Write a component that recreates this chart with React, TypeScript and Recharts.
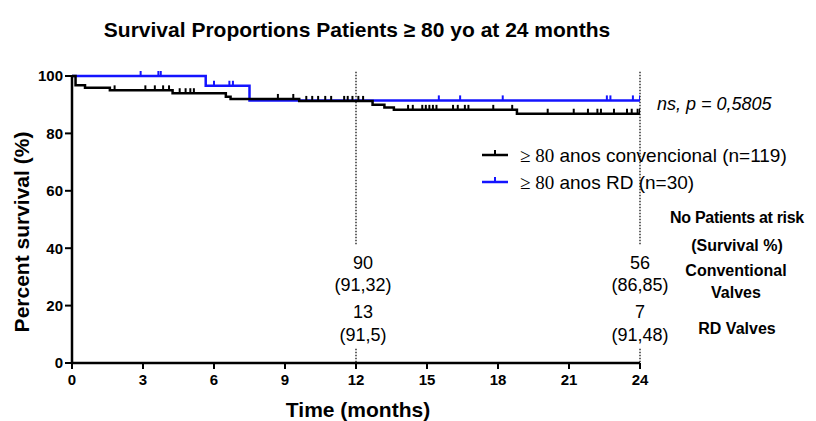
import React from "react";
import { LineChart, Line, XAxis, YAxis, ReferenceLine } from "recharts";

// Conventional valves (n=119): step times (months) and survival (%)
const CONV_EVENT_T = [0, 0.15, 0.55, 1.6, 4.25, 6.5, 6.7, 9.6, 12.7, 13.2, 13.6, 18.8];
const CONV_EVENT_S = [100, 96.8, 95.9, 95.0, 94.0, 92.8, 92.0, 91.32, 90.0, 89.0, 88.2, 86.85];
const CONV_CENSOR_T = [
  1.8, 3.1, 3.5, 3.85, 4.1, 4.55, 4.8, 5.0, 5.15, 8.7, 9.35, 9.9, 10.15, 10.4, 10.7, 10.95,
  11.5, 11.65, 11.85, 12.1, 12.3, 14.2, 14.4, 14.8, 14.95, 15.1, 15.25, 15.4, 16.1, 16.3,
  16.6, 16.75, 17.8, 18.6, 20.1, 21.2, 21.8, 22.2, 22.35, 22.9, 23.45, 23.65, 23.9,
];

// RD valves (n=30)
const RD_EVENT_T = [0, 5.65, 7.5];
const RD_EVENT_S = [100, 96.6, 91.5];
const RD_CENSOR_T = [2.9, 3.65, 3.75, 6.0, 6.65, 6.8, 15.5, 16.4, 18.2, 22.6, 22.75, 23.7];

const X_TICKS = [0, 3, 6, 9, 12, 15, 18, 21, 24];
const Y_TICKS = [0, 20, 40, 60, 80, 100];

const AT_RISK_12 = ["90", "(91,32)", "13", "(91,5)"];
const AT_RISK_24 = ["56", "(86,85)", "7", "(91,48)"];

const BLACK = "#000000";
const BLUE = "#1414ff";
const FONT = "'Liberation Sans', Arial, Helvetica, sans-serif";

type Pt = { t: number; s: number; censored: boolean };

function buildSeries(evT: number[], evS: number[], cenT: number[]): Pt[] {
  const lookup = (t: number) => {
    let v = evS[0];
    evT.forEach((et, i) => {
      if (et <= t) v = evS[i];
    });
    return v;
  };
  const pts: Pt[] = evT.map((t, i) => ({ t, s: evS[i], censored: false }));
  cenT.forEach((t) => pts.push({ t, s: lookup(t), censored: true }));
  pts.push({ t: 24, s: lookup(24), censored: true });
  return pts.sort((a, b) => a.t - b.t);
}

const convData = buildSeries(CONV_EVENT_T, CONV_EVENT_S, CONV_CENSOR_T);
const rdData = buildSeries(RD_EVENT_T, RD_EVENT_S, RD_CENSOR_T);

const censorDot = (color: string) => (props: any) => {
  const { cx, cy, payload, index } = props;
  if (!payload?.censored || cx == null) return <g key={`n-${index}`} />;
  return <line key={`c-${index}`} x1={cx} x2={cx} y1={cy} y2={cy - 5} stroke={color} strokeWidth={2} />;
};

export default function App() {
  return (
    <div style={{ position: "absolute", left: 0, top: 0, width: 816, height: 421, background: "#fff" }}>
      <LineChart width={816} height={421} margin={{ top: 76, right: 176, bottom: 28, left: 8 }}>
        <XAxis
          type="number"
          dataKey="t"
          domain={[0, 24]}
          ticks={X_TICKS}
          allowDataOverflow
          height={30}
          axisLine={{ stroke: BLACK, strokeWidth: 2.5 }}
          tickLine={{ stroke: BLACK, strokeWidth: 2 }}
          tickSize={6}
          tickMargin={5}
          tick={{ fill: BLACK, fontSize: 15, fontWeight: 700, fontFamily: FONT }}
        />
        <YAxis
          type="number"
          dataKey="s"
          domain={[0, 100]}
          ticks={Y_TICKS}
          width={64}
          axisLine={{ stroke: BLACK, strokeWidth: 2.5 }}
          tickLine={{ stroke: BLACK, strokeWidth: 2 }}
          tickSize={7}
          tick={{ fill: BLACK, fontSize: 15, fontWeight: 700, fontFamily: FONT }}
        />
        {[12, 24].map((x) => (
          <ReferenceLine key={`a${x}`} segment={[{ x, y: 101.5 }, { x, y: 41 }]} ifOverflow="visible" stroke={BLACK} strokeWidth={1.2} strokeDasharray="1.5 1.5" />
        ))}
        {[12, 24].map((x) => (
          <ReferenceLine key={`b${x}`} segment={[{ x, y: 5 }, { x, y: 0 }]} stroke={BLACK} strokeWidth={1.2} strokeDasharray="1.5 1.5" />
        ))}
        <Line
          data={rdData}
          dataKey="s"
          type="stepAfter"
          stroke={BLUE}
          strokeWidth={2.5}
          dot={censorDot(BLUE)}
          activeDot={false}
          isAnimationActive={false}
        />
        <Line
          data={convData}
          dataKey="s"
          type="stepAfter"
          stroke={BLACK}
          strokeWidth={2.5}
          dot={censorDot(BLACK)}
          activeDot={false}
          isAnimationActive={false}
        />
      </LineChart>

      <svg width={816} height={421} style={{ position: "absolute", left: 0, top: 0, pointerEvents: "none" }} fontFamily={FONT}>
        <text x={357} y={37} textAnchor="middle" fontSize={21} fontWeight={700}>
          Survival Proportions Patients ≥ 80 yo at 24 months
        </text>
        <text x={0} y={0} transform="translate(29,232) rotate(-90)" textAnchor="middle" fontSize={21} fontWeight={700}>
          Percent survival (%)
        </text>
        <text x={358} y={417} textAnchor="middle" fontSize={21} fontWeight={700}>
          Time (months)
        </text>
        <text x={657} y={110} fontSize={18} fontStyle="italic">
          ns, p = 0,5805
        </text>

        <line x1={482} x2={508} y1={155} y2={155} stroke={BLACK} strokeWidth={2.5} />
        <line x1={495} x2={495} y1={155} y2={150} stroke={BLACK} strokeWidth={2} />
        <text x={520} y={162} fontSize={19}>
          <tspan fontFamily="'Liberation Serif', serif">≥ 80</tspan> anos convencional (n=119)
        </text>
        <line x1={482} x2={508} y1={182} y2={182} stroke={BLUE} strokeWidth={2.5} />
        <line x1={495} x2={495} y1={182} y2={177} stroke={BLUE} strokeWidth={2} />
        <text x={520} y={189} fontSize={19}>
          <tspan fontFamily="'Liberation Serif', serif">≥ 80</tspan> anos RD (n=30)
        </text>

        <g fontSize={16} fontWeight={700} textAnchor="middle">
          <text x={737} y={223} letterSpacing={-0.3}>No Patients at risk</text>
          <text x={737} y={251}>(Survival %)</text>
          <text x={736} y={276}>Conventional</text>
          <text x={736} y={298}>Valves</text>
          <text x={737} y={334}>RD Valves</text>
        </g>

        <g fontSize={18} textAnchor="middle">
          {AT_RISK_12.map((s, i) => (
            <text key={s} x={363} y={[269, 291, 318, 341][i]}>{s}</text>
          ))}
          {AT_RISK_24.map((s, i) => (
            <text key={s} x={640} y={[269, 291, 318, 341][i]}>{s}</text>
          ))}
        </g>
      </svg>
    </div>
  );
}
